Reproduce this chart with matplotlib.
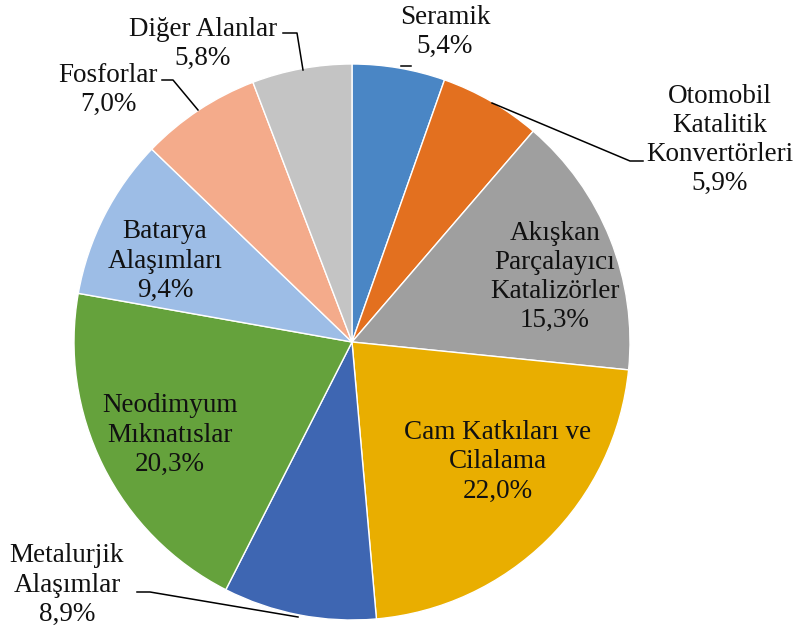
import matplotlib.pyplot as plt

plt.rcParams["font.family"] = ["Liberation Serif", "DejaVu Serif"]

# Dilimler: saat yönünde, tepeden başlayarak
labels = ["Seramik", "Otomobil\nKatalitik\nKonvertörleri", "Akışkan\nParçalayıcı\nKatalizörler",
          "Cam Katkıları ve\nCilalama", "Metalurjik\nAlaşımlar", "Neodimyum\nMıknatıslar",
          "Batarya\nAlaşımları", "Fosforlar", "Diğer Alanlar"]
shares = [5.4, 5.9, 15.3, 22.0, 8.9, 20.3, 9.4, 7.0, 5.8]
colors = ["#4a86c5", "#e3701f", "#9f9f9f", "#e9ae00", "#3e66b2",
          "#65a23c", "#9dbde6", "#f4ab8b", "#c4c4c4"]

W, H = 800, 633
fig = plt.figure(figsize=(W / 100, H / 100), dpi=100)
ax = fig.add_axes([0, 0, 1, 1])


def py(y):
    # piksel satırını eksen koordinatına çevir (üstten ölçülen)
    return H - y


ax.pie(shares, colors=colors, startangle=90, counterclock=False,
       center=(352, py(342)), radius=278, frame=True,
       wedgeprops=dict(edgecolor="white", linewidth=1.0))
ax.set_xlim(0, W)
ax.set_ylim(0, H)
ax.set_aspect("equal")
ax.axis("off")

# etiket konumları (piksel)
pos = [(445, 32), (720, 140), (555, 277), (498, 462), (67, 585),
       (170, 435), (165, 261), (108, 90), (203, 44)]
for lab, val, (x, y) in zip(labels, shares, pos):
    txt = f"{lab}\n{val:.1f}%".replace(".", ",")
    ax.text(x, py(y), txt, ha="center", va="center", fontsize=19.5,
            linespacing=1.22, color="#111111")

# bağlantı çizgileri
leaders = [
    [(401, 66), (411, 66)],
    [(492, 103), (630, 161), (643, 161)],
    [(137, 592), (150, 592), (298, 617)],
    [(162, 80), (173, 80), (198, 110)],
    [(283, 33), (297, 33), (303, 70)],
]
for pts in leaders:
    xs = [p[0] for p in pts]
    ys = [py(p[1]) for p in pts]
    ax.plot(xs, ys, color="black", lw=1.1)

fig.savefig("out.png", dpi=100)
